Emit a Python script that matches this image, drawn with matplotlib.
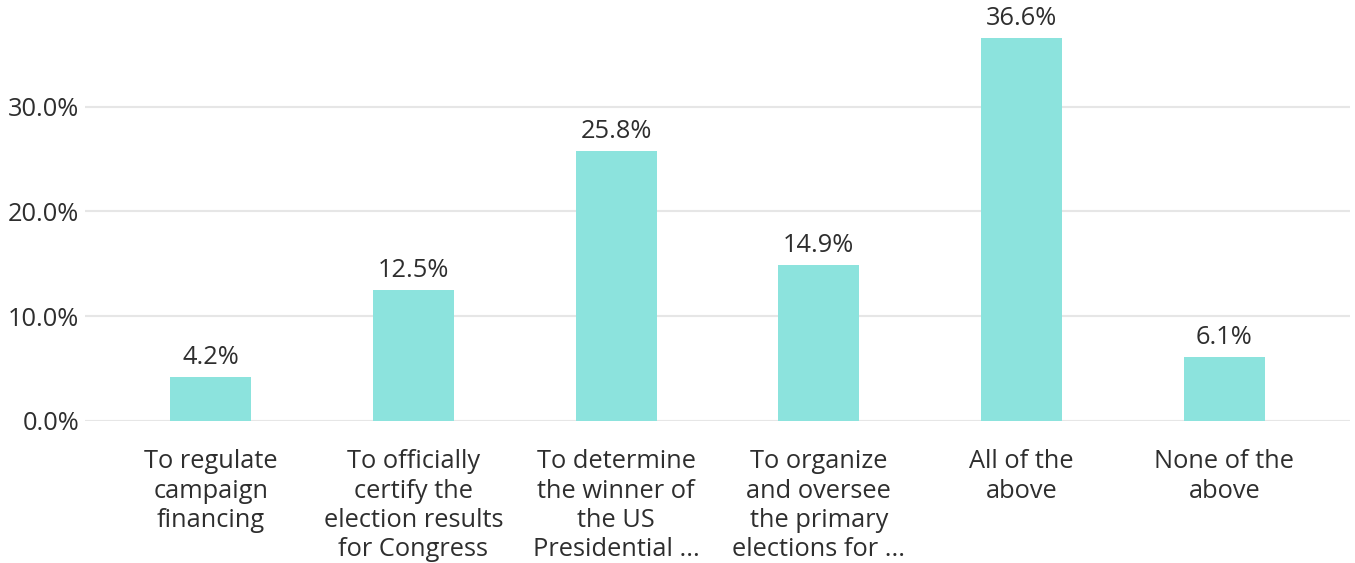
import matplotlib
matplotlib.use("Agg")
import matplotlib.pyplot as plt
from matplotlib.ticker import FuncFormatter

categories = [
    "To regulate\ncampaign\nfinancing",
    "To officially\ncertify the\nelection results\nfor Congress",
    "To determine\nthe winner of\nthe US\nPresidential ...",
    "To organize\nand oversee\nthe primary\nelections for ...",
    "All of the\nabove",
    "None of the\nabove",
]
values = [4.2, 12.5, 25.8, 14.9, 36.6, 6.1]
yticks = [0, 10, 20, 30]

BAR = "#8ce3dd"
TEXT = "#2e2e2e"
GRID = "#e6e6e6"
FS = 18.3

plt.rcParams["font.family"] = ["Open Sans", "DejaVu Sans"]

fig = plt.figure(figsize=(13.55, 5.63), dpi=100)
ax = fig.add_axes([85 / 1355, 142 / 563, 1265 / 1355, 419 / 563])

x = list(range(len(values)))
ax.bar(x, values, width=0.4, color=BAR, zorder=3)

for xi, v in zip(x, values):
    ax.annotate(f"{v:.1f}%", (xi, v), xytext=(0, 5), textcoords="offset points",
                ha="center", va="bottom", fontsize=FS, color=TEXT)

ax.set_xlim(-0.62, 5.62)
ax.set_ylim(0, 40)
ax.set_yticks(yticks)
ax.yaxis.set_major_formatter(FuncFormatter(lambda v, _: f"{v:.1f}%"))
ax.set_xticks(x)
ax.set_xticklabels(categories, linespacing=1.215)
ax.grid(axis="y", color=GRID, linewidth=1.5, zorder=0)
ax.tick_params(axis="both", length=0, labelsize=FS, colors=TEXT)
ax.tick_params(axis="x", pad=20.5)
ax.tick_params(axis="y", pad=4)
for s in ax.spines.values():
    s.set_visible(False)

fig.savefig("out.png", dpi=100)
